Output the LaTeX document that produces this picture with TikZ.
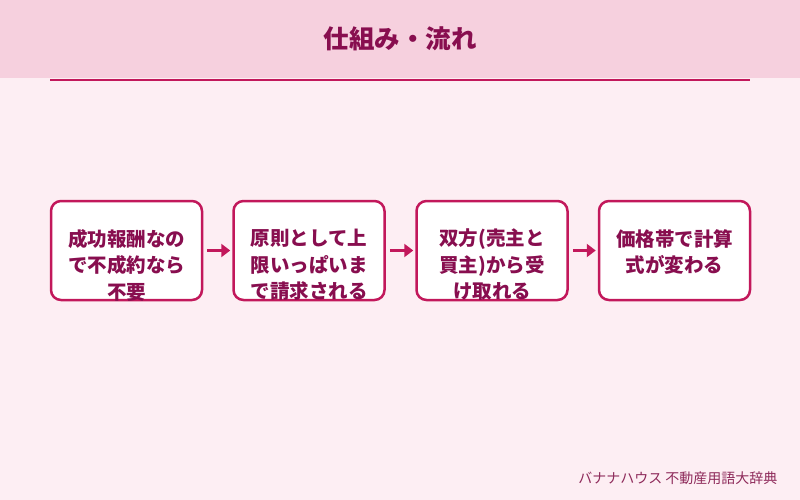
\documentclass[tikz,border=0pt]{standalone}
\usepackage{fontspec}
\setmainfont{Noto Sans CJK JP}
\usetikzlibrary{arrows.meta}
\definecolor{bgpink}{HTML}{FDEEF3}
\definecolor{headpink}{HTML}{F6D0DE}
\definecolor{accent}{HTML}{C2185B}
\definecolor{darktext}{HTML}{880E4F}
\definecolor{foottext}{HTML}{8E2A5A}
\tikzset{
  stepbox/.style={draw=accent, line width=2.5pt, fill=white, rounded corners=10pt, minimum width=151pt, minimum height=99pt, inner sep=0pt},
  steptext/.style={anchor=north, align=center, text=darktext, font=\fontsize{19.5}{26.5}\selectfont\bfseries, inner sep=0pt},
  flowarrow/.style={draw=accent, line width=3pt, -{Triangle[length=9pt,width=13pt]}},
}
\begin{document}
\begin{tikzpicture}[x=1pt,y=-1pt]
\useasboundingbox (0,0) rectangle (800,500);
\fill[bgpink] (0,0) rectangle (800,78);
\fill[bgpink] (0,0) rectangle (800,500);
\fill[headpink] (0,0) rectangle (800,78);
\draw[accent, line width=2pt] (50,80) -- (750,80);
\node[text=darktext, font=\fontsize{25.5}{30}\selectfont\bfseries] (title) at (400,39) {仕組み・流れ};

\node[stepbox] (b1) at (126.5,250.5) {};
\node[stepbox] (b2) at (309,250.5) {};
\node[stepbox] (b3) at (492,250.5) {};
\node[stepbox] (b4) at (674.5,250.5) {};

\node[steptext] (t1) at (126.5,229) {成功報酬なの\\で不成約なら\\不要};
\node[steptext] (t2) at (309,229) {原則として上\\限いっぱいま\\で請求される};
\node[steptext] (t3) at (492,229) {双方(売主と\\買主)から受\\け取れる};
\node[steptext] (t4) at (674.5,229) {価格帯で計算\\式が変わる};

\draw[flowarrow] ([xshift=4pt]b1.east) -- ([xshift=-2pt]b2.west);
\draw[flowarrow] ([xshift=4pt]b2.east) -- ([xshift=-2pt]b3.west);
\draw[flowarrow] ([xshift=4pt]b3.east) -- ([xshift=-2pt]b4.west);

\node[anchor=east, text=foottext, font=\fontsize{14}{17}\selectfont] (foot) at (781,478) {バナナハウス 不動産用語大辞典};
\end{tikzpicture}
\end{document}
